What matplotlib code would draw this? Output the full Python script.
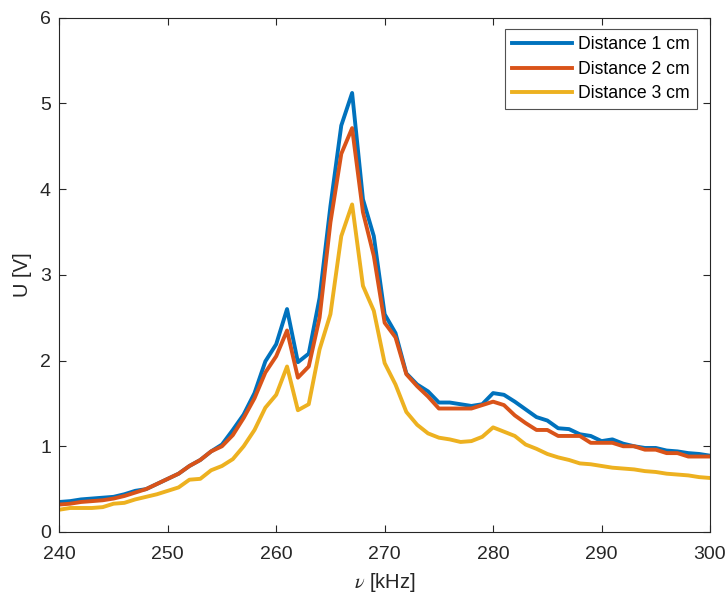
import matplotlib
matplotlib.use("Agg")
import matplotlib.pyplot as plt
import numpy as np

plt.rcParams['font.family'] = ['Liberation Sans', 'DejaVu Sans']
plt.rcParams['mathtext.fontset'] = 'stix'

freq = list(range(240, 301))

dist1 = [0.35, 0.36, 0.38, 0.39, 0.40, 0.41, 0.44, 0.48, 0.50, 0.56,
         0.62, 0.68, 0.77, 0.84, 0.94, 1.02, 1.19, 1.37, 1.62, 1.99,
         2.19, 2.60, 1.98, 2.08, 2.73, 3.80, 4.74, 5.12, 3.88, 3.45,
         2.54, 2.32, 1.85, 1.72, 1.64, 1.51, 1.51, 1.49, 1.47, 1.49,
         1.62, 1.60, 1.52, 1.43, 1.34, 1.30, 1.21, 1.20, 1.14, 1.12,
         1.06, 1.08, 1.03, 1.00, 0.98, 0.98, 0.95, 0.94, 0.92, 0.91,
         0.89]

dist2 = [0.32, 0.33, 0.35, 0.36, 0.37, 0.39, 0.42, 0.46, 0.50, 0.56,
         0.62, 0.68, 0.77, 0.84, 0.94, 1.00, 1.13, 1.33, 1.56, 1.86,
         2.05, 2.35, 1.80, 1.93, 2.50, 3.61, 4.41, 4.71, 3.73, 3.22,
         2.44, 2.27, 1.84, 1.70, 1.58, 1.44, 1.44, 1.44, 1.44, 1.48,
         1.52, 1.48, 1.36, 1.27, 1.19, 1.19, 1.12, 1.12, 1.12, 1.04,
         1.04, 1.04, 1.00, 1.00, 0.96, 0.96, 0.92, 0.92, 0.88, 0.88,
         0.88]

dist3 = [0.26, 0.28, 0.28, 0.28, 0.29, 0.33, 0.34, 0.38, 0.41, 0.44,
         0.48, 0.52, 0.61, 0.62, 0.72, 0.77, 0.85, 1.00, 1.19, 1.45,
         1.60, 1.93, 1.42, 1.49, 2.13, 2.54, 3.45, 3.82, 2.87, 2.58,
         1.97, 1.72, 1.40, 1.25, 1.15, 1.10, 1.08, 1.05, 1.06, 1.11,
         1.22, 1.17, 1.12, 1.02, 0.97, 0.91, 0.87, 0.84, 0.80, 0.79,
         0.77, 0.75, 0.74, 0.73, 0.71, 0.70, 0.68, 0.67, 0.66, 0.64,
         0.63]

labels = ["Distance 1 cm", "Distance 2 cm", "Distance 3 cm"]
colors = ["#0072BD", "#D95319", "#EDB120"]

fig = plt.figure(figsize=(7.28, 5.94), dpi=100)
ax = fig.add_axes([59.3/728, 1 - 532/594, (710 - 59.3)/728, (532 - 17.5)/594])

for y, lab, c in zip([dist1, dist2, dist3], labels, colors):
    ax.plot(freq, y, color=c, linewidth=2.8, label=lab)

ax.set_xlim(240, 300)
ax.set_ylim(0, 6)
ax.set_xticks(np.arange(240, 301, 10))
ax.set_yticks(np.arange(0, 7, 1))

axcol = '#262626'
for s in ax.spines.values():
    s.set_color(axcol)
    s.set_linewidth(0.8)
ax.tick_params(direction='in', length=5, width=0.8, colors=axcol,
               labelsize=14, top=True, right=True, pad=6)
ax.tick_params(axis='x', pad=10)

ax.set_xlabel(r'$\nu$ [kHz]', fontsize=14.5, color=axcol, labelpad=5.5)
ax.set_ylabel('U [V]', fontsize=14.5, color=axcol, labelpad=6)

leg = ax.legend(loc='upper right', fontsize=12.7, frameon=True, fancybox=False,
                edgecolor=axcol, handlelength=3.4, borderpad=0.4,
                labelspacing=0.42, handletextpad=0.35, borderaxespad=0,
                bbox_to_anchor=((696.7 - 59.3) / (710 - 59.3), (532 - 29.3) / (532 - 17.5)))
leg.get_frame().set_linewidth(0.8)

fig.savefig("out.png", dpi=100)
